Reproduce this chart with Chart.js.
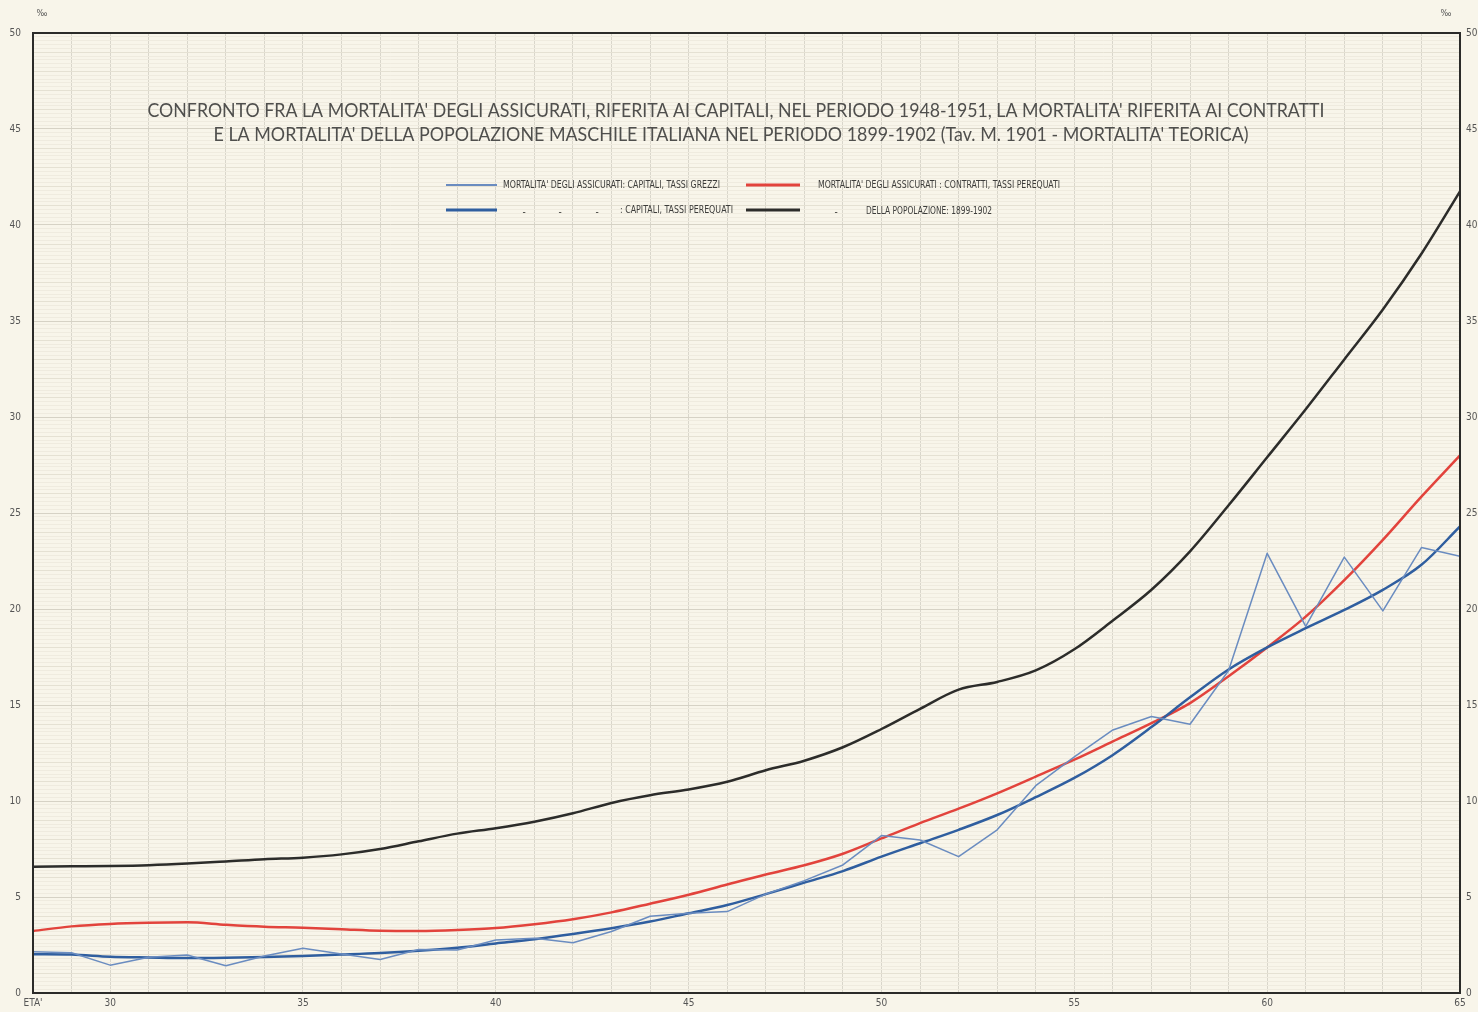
<!DOCTYPE html>
<html>
<head>
<meta charset="utf-8">
<title>Mortalità degli assicurati 1948-1951</title>
<style>
  html, body { margin: 0; padding: 0; background: #f8f5ea; }
  #wrap { position: relative; width: 1478px; height: 1012px; }
  canvas { display: block; }
</style>
<script src="https://cdn.jsdelivr.net/npm/chart.js@4.4.1/dist/chart.umd.min.js"></script>
</head>
<body>
<div id="wrap"><canvas id="chart" width="1478" height="1012"></canvas></div>
<script>
// Età (anni compiuti)
const ages = [28, 29, 30, 31, 32, 33, 34, 35, 36, 37, 38, 39, 40, 41, 42, 43, 44, 45, 46,
              47, 48, 49, 50, 51, 52, 53, 54, 55, 56, 57, 58, 59, 60, 61, 62, 63, 64, 65];

// Quozienti di mortalità per mille
const capitaliGrezzi = [2.15, 2.10, 1.45, 1.86, 1.98, 1.42, 1.93, 2.33, 2.03, 1.75, 2.27, 2.24, 2.76,
                        2.85, 2.62, 3.20, 4.00, 4.15, 4.24, 5.15, 5.85, 6.67, 8.20, 7.97, 7.10,
                        8.50, 10.80, 12.30, 13.70, 14.40, 14.00, 16.80, 22.90, 19.10, 22.70, 19.90,
                        23.20, 22.75];
const capitaliPerequati = [2.02, 2.00, 1.89, 1.85, 1.82, 1.84, 1.88, 1.93, 2.00, 2.08, 2.20, 2.36, 2.58,
                           2.80, 3.07, 3.37, 3.72, 4.15, 4.58, 5.15, 5.75, 6.35, 7.10, 7.80, 8.50,
                           9.27, 10.20, 11.20, 12.40, 13.85, 15.40, 16.85, 18.00, 19.00, 19.95, 21.00,
                           22.30, 24.30];
const contrattiPerequati = [3.23, 3.47, 3.60, 3.66, 3.68, 3.55, 3.45, 3.40, 3.32, 3.24, 3.23, 3.28, 3.38,
                            3.58, 3.84, 4.20, 4.65, 5.12, 5.65, 6.17, 6.65, 7.25, 8.05, 8.85, 9.60,
                            10.40, 11.27, 12.15, 13.10, 14.05, 15.10, 16.50, 18.00, 19.60, 21.50, 23.60,
                            25.85, 28.00];
const popolazione = [6.58, 6.60, 6.62, 6.66, 6.74, 6.85, 6.97, 7.05, 7.22, 7.50, 7.90, 8.30, 8.58,
                     8.92, 9.36, 9.90, 10.30, 10.60, 11.00, 11.60, 12.10, 12.80, 13.75, 14.80, 15.80,
                     16.20, 16.80, 17.90, 19.40, 21.00, 23.00, 25.40, 27.90, 30.40, 33.00, 35.60,
                     38.50, 41.75];

// Etichette degli assi
const xLabels = { 28: "ETA'", 30: '30', 35: '35', 40: '40', 45: '45', 50: '50', 55: '55', 60: '60', 65: '65' };
const yLabels = [0, 5, 10, 15, 20, 25, 30, 35, 40, 45, 50];
const unitLabel = '‰';

const titleLines = [
  "CONFRONTO FRA LA MORTALITA' DEGLI ASSICURATI, RIFERITA AI CAPITALI, NEL PERIODO 1948-1951, LA MORTALITA' RIFERITA AI CONTRATTI",
  "E LA MORTALITA' DELLA POPOLAZIONE MASCHILE ITALIANA NEL PERIODO 1899-1902 (Tav. M. 1901 - MORTALITA' TEORICA)"
];
const legendTexts = [
  "MORTALITA' DEGLI ASSICURATI: CAPITALI, TASSI GREZZI",
  ": CAPITALI, TASSI PEREQUATI",
  "MORTALITA' DEGLI ASSICURATI : CONTRATTI, TASSI PEREQUATI",
  "DELLA POPOLAZIONE: 1899-1902"
];

const C_RAW = '#6a8cc0', C_BLUE = '#2f5e9f', C_RED = '#e2433c', C_BLACK = '#2c2c2a';
const PAPER = '#f8f5ea';
const NARROW = "'Liberation Sans Narrow', 'DejaVu Sans Condensed', 'Liberation Sans', sans-serif";

const pts = arr => ages.map((a, i) => ({ x: a, y: arr[i] }));

// Carta millimetrata: righe ogni 0,2 per mille
const fineGrid = [];
for (let i = 0; i <= 250; i++) fineGrid.push({ value: i / 5 });

const paperPlugin = {
  id: 'paper',
  beforeDraw(chart) {
    const { ctx, width, height } = chart;
    ctx.save();
    ctx.fillStyle = PAPER;
    ctx.fillRect(0, 0, width, height);
    ctx.restore();
  },
  afterDraw(chart) {
    const { ctx, chartArea: a } = chart;
    ctx.save();
    // cornice
    ctx.strokeStyle = '#2b2b29';
    ctx.lineWidth = 2;
    ctx.strokeRect(a.left, a.top, a.right - a.left, a.bottom - a.top);

    // unità di misura
    ctx.fillStyle = '#555';
    ctx.font = `9px ${NARROW}`;
    ctx.textAlign = 'center';
    ctx.textBaseline = 'middle';
    ctx.fillText(unitLabel, a.left + 9, 14);
    ctx.fillText(unitLabel, a.right - 14, 14);

    // titolo
    ctx.fillStyle = '#4f4f4d';
    ctx.font = `400 19px Lato, 'Open Sans', 'Liberation Sans', sans-serif`;
    ctx.textBaseline = 'alphabetic';
    ctx.fillText(titleLines[0], 736, 117, 1177);
    ctx.fillText(titleLines[1], 731, 141, 1035);

    // legenda
    const ds = chart.data.datasets;
    const line = (x1, x2, y, d) => {
      ctx.strokeStyle = d.borderColor;
      ctx.lineWidth = d.borderWidth + 0.5;
      ctx.beginPath(); ctx.moveTo(x1, y); ctx.lineTo(x2, y); ctx.stroke();
    };
    line(446, 497, 185, ds[0]);
    line(746, 800, 185, ds[2]);
    line(446, 497, 210, ds[1]);
    line(746, 800, 210, ds[3]);
    ctx.fillStyle = '#3c3c3a';
    ctx.font = `10px ${NARROW}`;
    ctx.textAlign = 'left';
    ctx.textBaseline = 'middle';
    ctx.fillText(legendTexts[0], 503, 185, 217);
    ctx.fillText(legendTexts[2], 818, 185, 242);
    ctx.fillText(legendTexts[1], 620, 210, 113);
    ctx.fillText(legendTexts[3], 866, 211, 126);
    ctx.textAlign = 'center';
    [524, 560, 597, 836].forEach(x => ctx.fillText('-', x, 212));
    ctx.restore();
  }
};

new Chart(document.getElementById('chart'), {
  type: 'line',
  data: {
    datasets: [
      { label: legendTexts[0], data: pts(capitaliGrezzi), borderColor: C_RAW, borderWidth: 1.5, tension: 0, order: 0 },
      { label: legendTexts[1], data: pts(capitaliPerequati), borderColor: C_BLUE, borderWidth: 2.5, cubicInterpolationMode: 'monotone', order: 1 },
      { label: legendTexts[2], data: pts(contrattiPerequati), borderColor: C_RED, borderWidth: 2.5, cubicInterpolationMode: 'monotone', order: 2 },
      { label: legendTexts[3], data: pts(popolazione), borderColor: C_BLACK, borderWidth: 2.5, cubicInterpolationMode: 'monotone', order: 3 }
    ]
  },
  options: {
    responsive: false,
    animation: false,
    devicePixelRatio: 1,
    layout: { padding: { top: 33, left: 0, right: 0, bottom: 0 } },
    elements: { point: { radius: 0, hoverRadius: 0 }, line: { fill: false, borderJoinStyle: 'round', borderCapStyle: 'round' } },
    plugins: { legend: { display: false }, title: { display: false }, tooltip: { enabled: false } },
    scales: {
      x: {
        type: 'linear', min: 28, max: 65, position: 'bottom',
        afterFit: s => { s.height = 19; },
        ticks: {
          stepSize: 1, autoSkip: false, maxRotation: 0, padding: 4,
          color: '#555', font: { family: NARROW, size: 10 },
          callback: v => (xLabels[v] !== undefined ? xLabels[v] : '')
        },
        grid: { color: '#d9d6cb', lineWidth: 1, drawTicks: false },
        border: { display: true, color: '#2b2b29', width: 2 }
      },
      y: {
        type: 'linear', min: 0, max: 50, position: 'left',
        afterFit: s => { s.width = 33; },
        afterBuildTicks: s => { s.ticks = fineGrid.map(t => ({ value: t.value })); },
        ticks: {
          autoSkip: false, padding: 12, color: '#555', font: { family: NARROW, size: 10 },
          callback: v => {
            const r = Math.round(v);
            return (Math.abs(v - r) < 1e-6 && yLabels.includes(r)) ? String(r) : '';
          }
        },
        grid: {
          drawTicks: false, lineWidth: 1,
          color: c => {
            const v = c.tick ? c.tick.value : 0;
            const r = Math.round(v);
            if (Math.abs(v - r) < 1e-6) return r % 5 === 0 ? '#d6d2c5' : '#e5e1d3';
            return '#efebdf';
          }
        },
        border: { display: true, color: '#2b2b29', width: 2 }
      },
      y2: {
        type: 'linear', min: 0, max: 50, position: 'right',
        afterFit: s => { s.width = 18; },
        afterBuildTicks: s => { s.ticks = yLabels.map(v => ({ value: v })); },
        ticks: { padding: 6, color: '#555', font: { family: NARROW, size: 10 } },
        grid: { display: false, drawTicks: false },
        border: { display: true, color: '#2b2b29', width: 2 }
      }
    }
  },
  plugins: [paperPlugin]
});
</script>
</body>
</html>
